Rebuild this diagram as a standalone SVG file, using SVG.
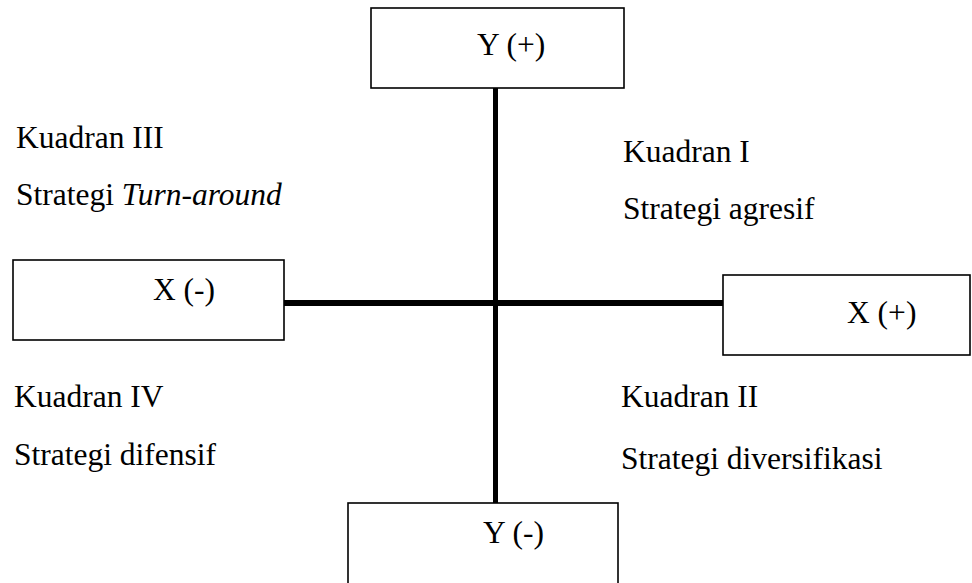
<svg xmlns="http://www.w3.org/2000/svg" width="972" height="583" viewBox="0 0 972 583">
<style>
.box{fill:#fff;stroke:#000;stroke-width:1.6}
.t{font-family:'Liberation Serif','DejaVu Serif','Times New Roman',serif;font-size:31.5px;fill:#000}
.ax{stroke:#000;fill:none}
</style>
<rect width="972" height="583" fill="#fff"/>
<g id="connectors">
<line class="ax" x1="495.5" y1="88" x2="495.5" y2="503" stroke-width="5"/>
<line class="ax" x1="284" y1="303" x2="723" y2="303" stroke-width="6"/>
</g>
<g font-family="Liberation Serif, serif">
<g id="y-plus"><rect class="box" x="371" y="8" width="253" height="80"/><text class="t" x="477" y="55">Y (+)</text></g>
<g id="x-minus"><rect class="box" x="13" y="260" width="271" height="80"/><text class="t" x="153" y="300">X (-)</text></g>
<g id="x-plus"><rect class="box" x="723" y="275" width="247" height="80"/><text class="t" x="847" y="323">X (+)</text></g>
<g id="y-minus"><rect class="box" x="348" y="503" width="270" height="90"/><text class="t" x="483" y="543">Y (-)</text></g>
<g id="q3"><text class="t" x="16" y="148">Kuadran III</text><text class="t" x="16" y="205">Strategi <tspan font-style="italic">Turn-around</tspan></text></g>
<g id="q1"><text class="t" x="623" y="162">Kuadran I</text><text class="t" x="623" y="219">Strategi agresif</text></g>
<g id="q4"><text class="t" x="14" y="407">Kuadran IV</text><text class="t" x="14" y="465">Strategi difensif</text></g>
<g id="q2"><text class="t" x="621" y="407">Kuadran II</text><text class="t" x="621" y="469">Strategi diversifikasi</text></g>
</g>
</svg>
